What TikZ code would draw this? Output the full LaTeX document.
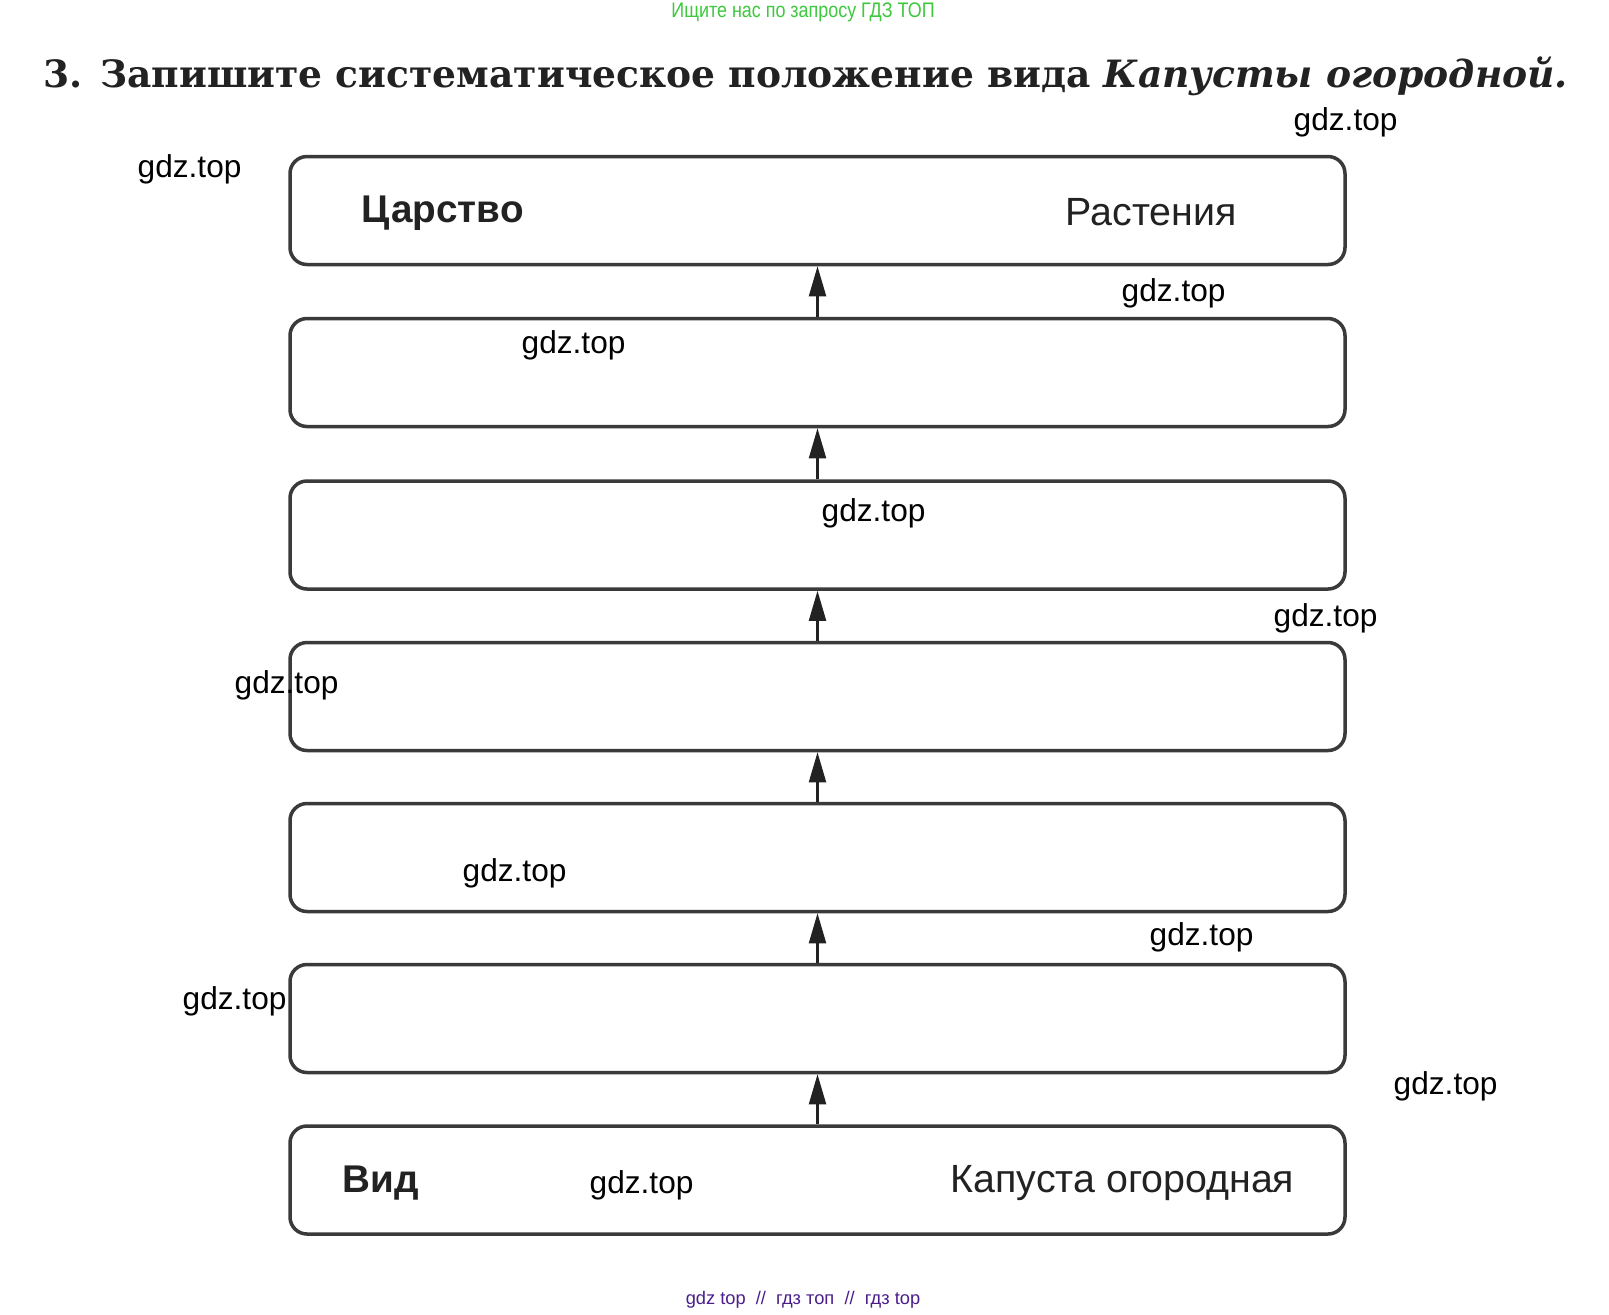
\documentclass[tikz,border=0pt]{standalone}
\usepackage{fontspec}
\setmainfont{Liberation Sans}
\newfontfamily\titlefont{DejaVu Serif}
\usetikzlibrary{arrows.meta}
\definecolor{boxline}{HTML}{3A3A3A}
\definecolor{inkgray}{HTML}{222222}
\definecolor{gdzgreen}{HTML}{3DC83D}
\definecolor{gdzpurple}{HTML}{4B1E8C}

\begin{document}
\begin{tikzpicture}[
    x=0.1mm, y=-0.1mm,
    taxon/.style={rectangle, draw=boxline, line width=1pt, rounded corners=1.7mm, minimum width=105.5mm, minimum height=10.8mm},
    rankname/.style={font=\fontsize{11}{13}\selectfont\bfseries, text=inkgray, anchor=west, inner sep=0pt},
    taxonname/.style={font=\fontsize{11.2}{13}\selectfont, text=inkgray, anchor=west, inner sep=0pt},
    wmark/.style={font=\fontsize{9}{11}\selectfont, anchor=west, inner sep=0pt},
    uparrow/.style={-{Triangle[width=1.7mm, length=3mm]}, line width=0.6pt, draw=inkgray}
]
\useasboundingbox (0,0) rectangle (1609,1314);
\fill[white] (0,0) rectangle (1609,1314);

% Top: header and task
\node[font=\fontsize{6}{7}\selectfont, text=gdzgreen] (head) at (803,12) {\scalebox{0.85}[1]{Ищите нас по запросу ГДЗ ТОП}};
\node[font=\titlefont\fontsize{10.7}{13}\selectfont\bfseries, text=inkgray, anchor=west, inner sep=0pt] (task) at (43,76)
    {3. Запишите систематическое положение вида \textit{Капусты огородной.}};

% Middle: the seven ranks
\node[taxon] (b1) at (817.5,210.5) {};
\node[taxon] (b2) at (817.5,372.5) {};
\node[taxon] (b3) at (817.5,535) {};
\node[taxon] (b4) at (817.5,696.5) {};
\node[taxon] (b5) at (817.5,857.5) {};
\node[taxon] (b6) at (817.5,1018.5) {};
\node[taxon] (b7) at (817.5,1180) {};

\node[rankname] (kingdom) at (361,213) {Царство};
\node[taxonname] (plants) at (1065,212) {Растения};
\node[rankname] (species) at (342,1183) {Вид};
\node[taxonname] (cabbage) at (950,1183) {Капуста огородная};

% Arrows
\draw[uparrow] (b7) -- (b6);
\draw[uparrow] (b6) -- (b5);
\draw[uparrow] (b5) -- (b4);
\draw[uparrow] (b4) -- (b3);
\draw[uparrow] (b3) -- (b2);
\draw[uparrow] (b2) -- (b1);

% Watermarks
\node[wmark] (w1) at (1293,122) {gdz.top};
\node[wmark] (w2) at (137,169) {gdz.top};
\node[wmark] (w3) at (1121,293) {gdz.top};
\node[wmark] (w4) at (521,345) {gdz.top};
\node[wmark] (w5) at (821,513) {gdz.top};
\node[wmark] (w6) at (1273,618) {gdz.top};
\node[wmark] (w7) at (234,685) {gdz.top};
\node[wmark] (w8) at (462,873) {gdz.top};
\node[wmark] (w9) at (1149,937) {gdz.top};
\node[wmark] (w10) at (182,1001) {gdz.top};
\node[wmark] (w11) at (1393,1086) {gdz.top};
\node[wmark] (w12) at (589,1185) {gdz.top};

% Bottom: footer
\node[font=\fontsize{5.2}{6}\selectfont, text=gdzpurple] (foot) at (803,1300) {gdz top \ // \ гдз топ \ // \ гдз top};

\end{tikzpicture}
\end{document}
